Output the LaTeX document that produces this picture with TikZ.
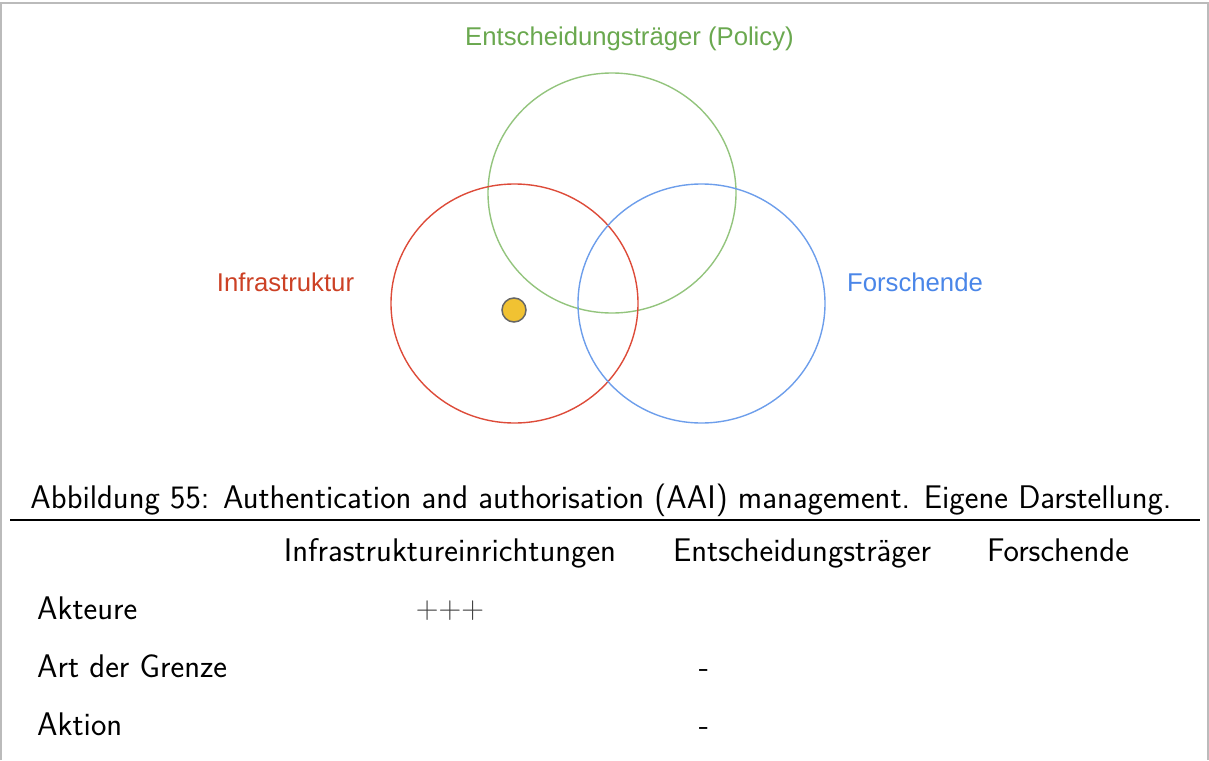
\documentclass[tikz,border=0pt]{standalone}
\usepackage{fontspec}
\newfontfamily\arialf{Liberation Sans}
\definecolor{redc}{HTML}{DD4B39}
\definecolor{redl}{HTML}{CC4125}
\definecolor{bluec}{HTML}{6D9EEB}
\definecolor{bluel}{HTML}{4A86E8}
\definecolor{greenc}{HTML}{93C47D}
\definecolor{greenl}{HTML}{6AA84F}
\definecolor{frame}{HTML}{BBBBBB}
\definecolor{dotfill}{HTML}{F1C232}
\definecolor{dotline}{HTML}{666666}
\begin{document}
\begin{tikzpicture}[x=1pt,y=-1pt,
  circ/.style={line width=1.4pt},
  dlabel/.style={font=\arialf\fontsize{25.7}{30}\selectfont, inner sep=0pt},
  body/.style={font=\sffamily\fontsize{32.7}{38}\selectfont, inner sep=0pt},
]
\useasboundingbox (0,0) rectangle (1209,760);
\draw[frame, line width=2pt] (1,760) -- (1,3) -- (1208,3) -- (1208,760);
% circles
\draw[circ, greenc] (612,193) ellipse [x radius=124, y radius=120];
\draw[circ, redc] (514.5,303.5) ellipse [x radius=123.5, y radius=119.5];
\draw[circ, bluec] (701.5,303.5) ellipse [x radius=123.5, y radius=119.5];
\node[circle, minimum size=24pt, inner sep=0pt, fill=dotfill, draw=dotline, line width=1.5pt] (dot) at (514,310) {};
% labels
\node[dlabel, text=greenl, anchor=base] (lpol) at (629.5,46) {Entscheidungstr\"ager (Policy)};
\node[dlabel, text=redl, anchor=base] (linf) at (285.5,291) {Infrastruktur};
\node[dlabel, text=bluel, anchor=base] (lfor) at (915,291) {Forschende};
% caption
\node[body, anchor=base] (cap) at (601,508) {Abbildung 55: Authentication and authorisation (AAI) management. Eigene Darstellung.};
\draw[line width=1.2pt] (10,520) -- (1200,520);
% table
\node[body, anchor=base] (h1) at (450,561) {Infrastruktureinrichtungen};
\node[body, anchor=base] (h2) at (802,561) {Entscheidungstr\"ager};
\node[body, anchor=base] (h3) at (1058,561) {Forschende};
\node[body, anchor=base west] (r1) at (37,619) {Akteure};
\node[body, anchor=base west] (r2) at (37,677) {Art der Grenze};
\node[body, anchor=base west] (r3) at (37,735) {Aktion};
\node[body, font=\rmfamily\fontsize{31.5}{38}\selectfont, anchor=center, text=black!75] (v1) at (450,611) {+++};
\node[body, anchor=base] (v2) at (704,677) {-};
\node[body, anchor=base] (v3) at (704,735) {-};
\end{tikzpicture}
\end{document}
